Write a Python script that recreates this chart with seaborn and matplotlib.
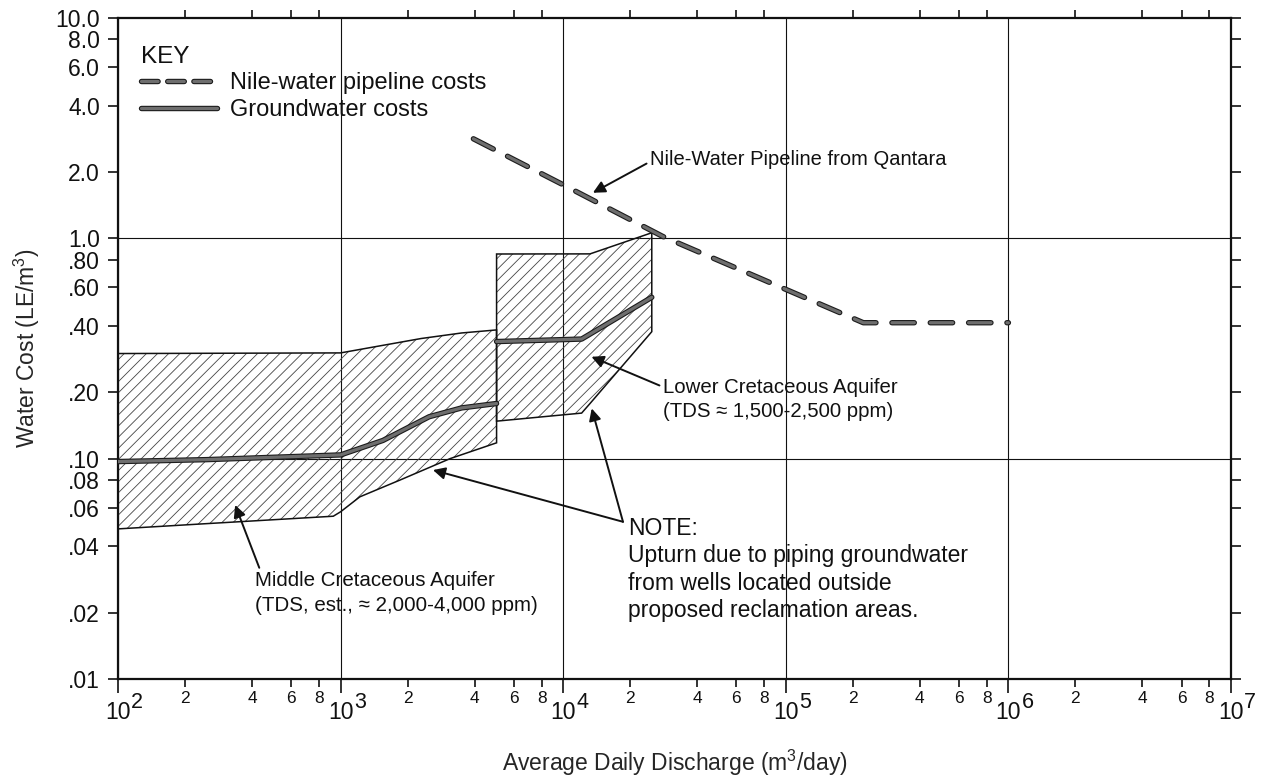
import numpy as np
import pandas as pd
import matplotlib
matplotlib.use("Agg")
import matplotlib.pyplot as plt
import matplotlib.patheffects as pe
import matplotlib.transforms as mtransforms
from matplotlib.lines import Line2D
from matplotlib.ticker import FixedLocator, FixedFormatter, NullLocator
import seaborn as sns

# ---------------- data ----------------
# Middle Cretaceous aquifer band
mid_top_x = [100, 1000, 1500, 2300, 3500, 5020]
mid_top_y = [0.300, 0.302, 0.325, 0.351, 0.372, 0.384]
mid_bot_x = [100, 233, 927, 1000, 1220, 1850, 3100, 5020]
mid_bot_y = [0.048, 0.0505, 0.0548, 0.0574, 0.0671, 0.080, 0.100, 0.118]
# Lower Cretaceous aquifer band
low_top_x = [5020, 13200, 25000]
low_top_y = [0.849, 0.850, 1.06]
low_bot_x = [5020, 12100, 13200, 25000]
low_bot_y = [0.148, 0.161, 0.178, 0.377]
# Groundwater cost lines
gw_mid_x = [100, 250, 1000, 1550, 2500, 3500, 5020]
gw_mid_y = [0.097, 0.099, 0.104, 0.121, 0.155, 0.170, 0.178]
gw_low_x = [5020, 12100, 25000]
gw_low_y = [0.340, 0.349, 0.540]
# Nile-water pipeline cost line
nile_x = [3950, 10000, 28000, 223000, 1000000]
nile_y = [2.83, 1.75, 1.02, 0.414, 0.414]

# ticks
y_ticks = [10, 8, 6, 4, 2, 1, 0.8, 0.6, 0.4, 0.2, 0.1, 0.08, 0.06, 0.04, 0.02, 0.01]
y_tick_labels = ["10.0", "8.0", "6.0", "4.0", "2.0", "1.0", ".80", ".60", ".40",
                 ".20", ".10", ".08", ".06", ".04", ".02", ".01"]
x_decades = [1e2, 1e3, 1e4, 1e5, 1e6, 1e7]
x_exponents = ["2", "3", "4", "5", "6", "7"]
x_minor_mult = [2, 4, 6, 8]
x_minor_labels = ["2", "4", "6", "8"]

# ---------------- style ----------------
sns.set_theme(style="white")
plt.rcParams["font.family"] = ["Liberation Sans", "DejaVu Sans"]
plt.rcParams["mathtext.fontset"] = "custom"
plt.rcParams["mathtext.rm"] = "Liberation Sans"
plt.rcParams["mathtext.it"] = "Liberation Sans:italic"
plt.rcParams["hatch.linewidth"] = 0.6
plt.rcParams["text.color"] = "#111111"

W, H = 1269, 781
fig = plt.figure(figsize=(W / 100, H / 100), dpi=100)
fig.patch.set_facecolor("white")
ax = fig.add_axes([118 / W, 1 - 679 / H, (1231 - 118) / W, (679 - 18) / H])
ax.set_facecolor("white")
ax.set_xscale("log")
ax.set_yscale("log")
ax.set_xlim(1e2, 1e7)
ax.set_ylim(0.01, 10)

for s in ax.spines.values():
    s.set_color("#111111")
    s.set_linewidth(1.6)

# grid
ax.grid(axis="x", which="major", color="#111111", lw=0.8)
ax.grid(axis="y", visible=False)
for g in (1.0, 0.1):
    ax.axhline(g, color="#111111", lw=0.8, zorder=0.5)

# ---------------- hatched bands ----------------
hatch_col = "#444444"
for tx, ty, bx, by in [(mid_top_x, mid_top_y, mid_bot_x, mid_bot_y),
                       (low_top_x, low_top_y, low_bot_x, low_bot_y)]:
    px = list(tx) + list(bx[::-1])
    py = list(ty) + list(by[::-1])
    ax.fill(px, py, facecolor="none", edgecolor=hatch_col, hatch="///", lw=0, zorder=1)
    ax.fill(px, py, fill=False, edgecolor="#111111", lw=1.1, zorder=1.5)

# ---------------- lines (seaborn) ----------------
line_pe = [pe.Stroke(linewidth=3.9, foreground="#1c1c1c"), pe.Normal()]
df_gw = pd.DataFrame({
    "x": gw_mid_x + gw_low_x,
    "y": gw_mid_y + gw_low_y,
    "seg": ["mid"] * len(gw_mid_x) + ["low"] * len(gw_low_x),
})
sns.lineplot(data=df_gw, x="x", y="y", units="seg", estimator=None, sort=False,
             color="#6e6e6e", lw=2.3, ax=ax, legend=False, zorder=3,
             solid_capstyle="round", path_effects=line_pe)

df_nile = pd.DataFrame({"x": nile_x, "y": nile_y})
sns.lineplot(data=df_nile, x="x", y="y", estimator=None, sort=False,
             color="#6e6e6e", lw=2.3, ax=ax, legend=False, zorder=3)
nile_line = ax.lines[-1]
nile_line.set_dashes((7.0, 5.0))
nile_line.set_dash_capstyle("round")
nile_line.set_path_effects(line_pe)

ax.set_xlabel("")
ax.set_ylabel("")

# ---------------- ticks ----------------
ax.xaxis.set_major_locator(FixedLocator(x_decades))
ax.xaxis.set_major_formatter(FixedFormatter(["10"] * len(x_decades)))
minor_pos = [m * d for d in x_decades[:-1] for m in x_minor_mult]
ax.xaxis.set_minor_locator(FixedLocator(minor_pos))
ax.xaxis.set_minor_formatter(FixedFormatter(x_minor_labels * (len(x_decades) - 1)))
ax.tick_params(axis="x", which="major", direction="out", length=10, width=1.2,
               labelsize=16.5, pad=6, bottom=True, top=False, colors="#111111")
ax.tick_params(axis="x", which="minor", direction="out", length=6, width=1.2,
               labelsize=12.5, pad=2.5, bottom=True, top=True, labeltop=False,
               colors="#111111")

ax.yaxis.set_major_locator(FixedLocator(y_ticks))
ax.yaxis.set_major_formatter(FixedFormatter(y_tick_labels))
ax.yaxis.set_minor_locator(NullLocator())
ax.tick_params(axis="y", which="major", direction="out", length=7, width=1.2,
               labelsize=16.5, pad=6, left=True, right=True, labelright=False,
               colors="#111111")

# exponents of the decade labels
trans = mtransforms.blended_transform_factory(ax.transData, ax.transAxes)
for d, e in zip(x_decades, x_exponents):
    ax.annotate(e, xy=(d, 0), xycoords=trans, xytext=(9.5, -9.5),
                textcoords="offset points", ha="left", va="top", fontsize=15.5,
                annotation_clip=False)

# axis labels
ax.set_ylabel("Water Cost (LE/m$^3$)", fontsize=16.5)
ax.yaxis.set_label_coords(-0.068, 0.5)
ax.set_xlabel("Average Daily Discharge (m$^3$/day)", fontsize=16.5)
ax.xaxis.set_label_coords(0.5, -0.104)

# ---------------- legend ----------------
h_nile = Line2D([], [], color="#6e6e6e", lw=2.3, dashes=(5.2, 3.0),
                dash_capstyle="round", path_effects=line_pe)
h_gw = Line2D([], [], color="#6e6e6e", lw=2.3, solid_capstyle="round",
              path_effects=line_pe)
leg = ax.legend([h_nile, h_gw], ["Nile-water pipeline costs", "Groundwater costs"],
                title="KEY", loc="upper left", bbox_to_anchor=(0.021, 0.958),
                frameon=False, fontsize=17, title_fontsize=17.5, handlelength=3.2,
                handletextpad=0.55, labelspacing=0.2, borderpad=0, borderaxespad=0,
                alignment="left")

# ---------------- annotations ----------------
arrow_kw = dict(arrowstyle="-|>", color="#111111", lw=1.4, mutation_scale=18,
                shrinkA=0, shrinkB=0)

ax.annotate("Nile-Water Pipeline from Qantara", xy=(1.36e4, 1.61),
            xytext=(2.45e4, 2.27), ha="left", va="center", fontsize=14.5,
            arrowprops=dict(arrow_kw, relpos=(0, 0.4)))

ax.annotate("Lower Cretaceous Aquifer\n(TDS \u2248 1,500-2,500 ppm)",
            xy=(1.34e4, 0.29), xytext=(2.8e4, 0.1854), ha="left", va="center",
            fontsize=14.7, linespacing=1.3,
            arrowprops=dict(arrow_kw, relpos=(0, 0.8)))

ax.annotate("Middle Cretaceous Aquifer\n(TDS, est., \u2248 2,000-4,000 ppm)",
            xy=(336, 0.0616), xytext=(412, 0.02455), ha="left", va="center",
            fontsize=14.8, linespacing=1.4,
            arrowprops=dict(arrow_kw, relpos=(0.02, 1.0)))

note_xy = (1.856e4, 0.0517)
for tip in [(2.6e3, 0.0888), (1.343e4, 0.169)]:
    ax.annotate("", xy=tip, xytext=note_xy, arrowprops=dict(arrow_kw))
ax.text(1.95e4, 0.0545,
        "NOTE:\nUpturn due to piping groundwater\nfrom wells located outside\nproposed reclamation areas.",
        ha="left", va="top", fontsize=16.5, linespacing=1.25)

fig.savefig("out.png", dpi=100, facecolor="white")
